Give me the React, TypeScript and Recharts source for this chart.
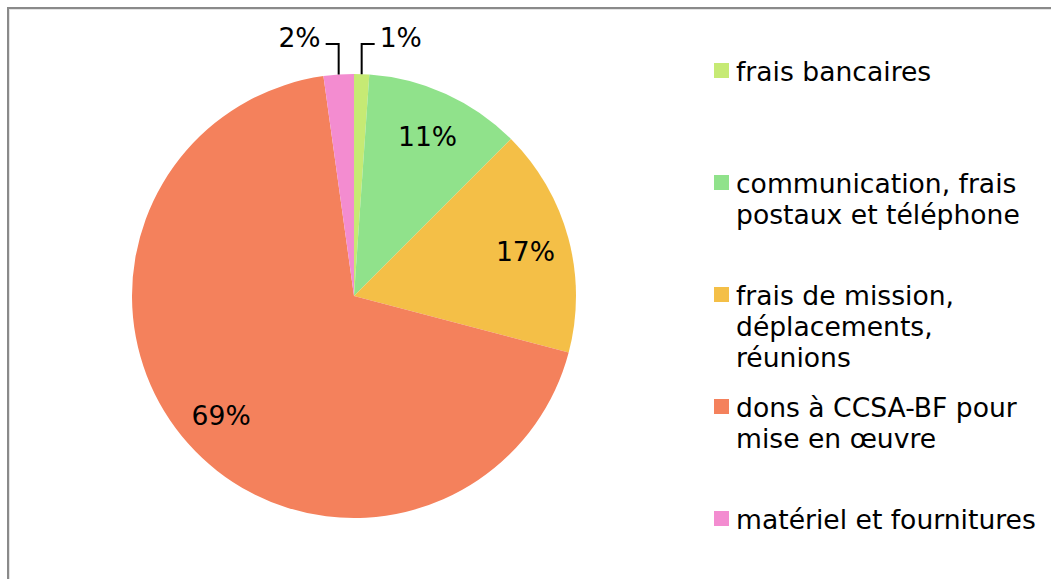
import { Cell, Legend, Pie, PieChart } from 'recharts'

const categories = [
  'frais bancaires',
  'communication, frais postaux et téléphone',
  'frais de mission, déplacements, réunions',
  'dons à CCSA-BF pour mise en œuvre',
  'matériel et fournitures',
]
const shares = [1.1, 11.4, 16.6, 68.7, 2.2]
const colors = ['#C6EA74', '#90E28B', '#F4BF47', '#F4815C', '#F38CD0']

const data = categories.map((name, i) => ({ name, value: shares[i] }))

const RAD = Math.PI / 180
const FONT = '"DejaVu Sans", Verdana, sans-serif'
const FS = 26.6

function renderLabel(props: any) {
  const { cx, cy, midAngle, outerRadius, percent, index } = props
  const text = `${Math.round(percent * 100)}%`
  const cos = Math.cos(-midAngle * RAD)
  const sin = Math.sin(-midAngle * RAD)
  if (percent > 0.05) {
    const r = outerRadius * 0.8
    return (
      <text key={index} x={cx + r * cos} y={cy + r * sin + 2} textAnchor="middle" dominantBaseline="central"
        fontSize={FS} fontFamily={FONT} fill="#000">
        {text}
      </text>
    )
  }
  // small slices: leader line going up, then sideways
  const ex = cx + outerRadius * cos
  const ey = cy + outerRadius * sin
  const ly = cy - outerRadius - 30
  const dir = cos >= 0 ? 1 : -1
  const hx = ex + dir * 13
  return (
    <g key={index}>
      <polyline points={`${ex},${ey} ${ex},${ly} ${hx},${ly}`} fill="none" stroke="#000" strokeWidth={2} />
      <text x={hx + dir * 5} y={ly + 3} textAnchor={dir > 0 ? 'start' : 'end'} fontSize={FS} fontFamily={FONT} fill="#000">
        {text}
      </text>
    </g>
  )
}

function LegendContent() {
  return (
    <div style={{ position: 'relative', width: 330, height: 500, fontFamily: FONT, fontSize: FS, lineHeight: '31px', color: '#000' }}>
      {categories.map((name, i) => (
        <div key={name} style={{ position: 'absolute', top: i * 112, left: 0, display: 'flex', alignItems: 'flex-start' }}>
          <span style={{ display: 'block', width: 15, height: 15, background: colors[i], marginTop: 7, marginRight: 7, flex: 'none' }} />
          <span style={{ display: 'block', width: 308 }}>{name}</span>
        </div>
      ))}
    </div>
  )
}

export default function App() {
  return (
    <div style={{ position: 'fixed', left: 0, top: 0, width: 1051, height: 579, overflow: 'hidden', background: '#fff' }}>
      <div style={{ position: 'absolute', left: 7, top: 7, width: 1100, height: 600, borderTop: '2px solid #8a8a8a', borderLeft: '2px solid #8a8a8a', boxShadow: 'inset 1px 1px 0 #e4e4e4' }} />
      <div style={{ position: 'absolute', left: 0, top: 0 }}>
        <PieChart width={1051} height={579} margin={{ top: 0, right: 0, bottom: 0, left: 0 }}>
          <Pie
            data={data}
            dataKey="value"
            nameKey="name"
            cx={354}
            cy={296}
            outerRadius={222}
            startAngle={90}
            endAngle={-270}
            stroke="none"
            label={renderLabel}
            labelLine={false}
            isAnimationActive={false}
          >
            {data.map((d, i) => (
              <Cell key={d.name} fill={colors[i]} />
            ))}
          </Pie>
          <Legend
            layout="vertical"
            align="right"
            verticalAlign="top"
            content={<LegendContent />}
            wrapperStyle={{ left: 714, top: 56, right: 'auto', width: 330 }}
          />
        </PieChart>
      </div>
    </div>
  )
}
